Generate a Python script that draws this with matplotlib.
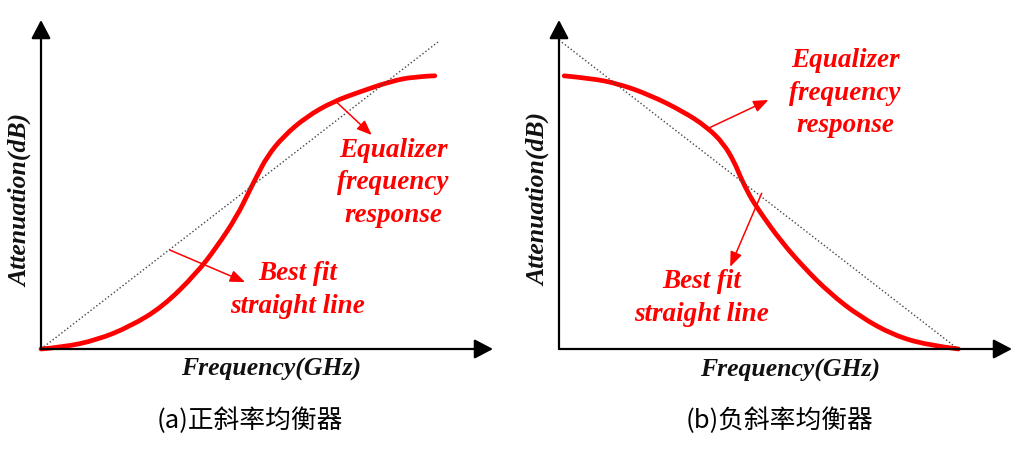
import matplotlib.pyplot as plt
from matplotlib.path import Path
from matplotlib.patches import PathPatch

# Curve (x: frequency, y: attenuation, arbitrary units 0..10)
pos_x = [0.0, 0.56, 1.40, 2.24, 3.07, 3.92, 4.43, 4.93, 5.26, 5.43, 5.69, 6.10, 6.69, 7.36, 8.04, 8.79, 9.38, 9.92]
pos_y = [0.0, 0.06, 0.29, 0.73, 1.38, 2.47, 3.33, 4.31, 5.18, 5.61, 6.26, 6.92, 7.57, 8.06, 8.38, 8.71, 8.87, 8.90]

neg_x = [0.13, 0.78, 1.45, 2.28, 3.12, 3.70, 4.12, 4.41, 4.54, 4.79, 4.95, 5.12, 5.54, 6.12, 6.79, 7.54, 8.38, 9.22, 10.01]
neg_y = [8.84, 8.76, 8.60, 8.22, 7.68, 7.19, 6.66, 6.01, 5.58, 4.93, 4.61, 4.28, 3.53, 2.66, 1.80, 1.05, 0.45, 0.13, 0.0]

# best fit straight lines
pos_fit_x = [0, 10]
pos_fit_y = [0, 10]
neg_fit_x = [0, 10]
neg_fit_y = [10, 0]

xlabel = 'Frequency(GHz)'
ylabel = 'Attenuation(dB)'
eq_label = 'Equalizer\nfrequency\nresponse'
fit_label = 'Best fit\nstraight line'
captions = ['(a)正斜率均衡器', '(b)负斜率均衡器']

W, H = 1035, 450
fig = plt.figure(figsize=(W / 100, H / 100), dpi=100)

red = '#ff0000'
serif = dict(family='Liberation Serif', weight='bold', style='italic', size=18.5)


def smooth_path(xs, ys):
    # quadratic bezier pieces through the midpoints, read points act as control points
    pts = list(zip(xs, ys))
    verts = [pts[0]]
    codes = [Path.MOVETO]
    for i in range(1, len(pts) - 1):
        if i < len(pts) - 2:
            end = ((pts[i][0] + pts[i + 1][0]) / 2, (pts[i][1] + pts[i + 1][1]) / 2)
        else:
            end = pts[-1]
        verts += [pts[i], end]
        codes += [Path.CURVE3, Path.CURVE3]
    return Path(verts, codes)


def make_axes(x0, y0, x1, y1):
    # pixel box of the axes (origin and arrow tips)
    return fig.add_axes([x0 / W, 1 - y0 / H, (x1 - x0) / W, (y0 - y1) / H])


panels = [
    dict(box=(41, 349, 493, 20), xs=39.7, ys=30.7, cx=pos_x, cy=pos_y, fx=pos_fit_x, fy=pos_fit_y,
         eq_xy=(8.87, 5.41), fit_xy=(6.47, 1.92), cap_x=250,
         eq_arrow=((7.43, 8.06), (8.33, 6.97)), fit_arrow=((3.25, 3.22), (5.14, 2.18))),
    dict(box=(559, 349, 1012, 20), xs=39.9, ys=30.9, cx=neg_x, cy=neg_y, fx=neg_fit_x, fy=neg_fit_y,
         eq_xy=(7.17, 8.28), fit_xy=(3.58, 1.65), cap_x=780,
         eq_arrow=((3.77, 7.16), (5.25, 8.06)), fit_arrow=((5.08, 5.04), (4.29, 2.66))),
]

for p, cap in zip(panels, captions):
    x0, y0, x1, y1 = p['box']
    ax = make_axes(*p['box'])
    ax.set_xlim(0, (x1 - x0) / p['xs'])
    ax.set_ylim(0, (y0 - y1) / p['ys'])
    ax.axis('off')

    # axes with arrow heads
    axis_arrow = dict(arrowstyle='-|>,head_length=0.42,head_width=0.22', color='black',
                      lw=1.6, mutation_scale=27, shrinkA=0, shrinkB=0)
    ax.annotate('', xy=(1, 0), xytext=(0, 0), xycoords='axes fraction', arrowprops=axis_arrow)
    ax.annotate('', xy=(0, 1), xytext=(0, 0), xycoords='axes fraction', arrowprops=axis_arrow)

    ax.plot(p['fx'], p['fy'], ls=':', color='#444444', lw=1.0, clip_on=False)
    ax.add_patch(PathPatch(smooth_path(p['cx'], p['cy']), fill=False, edgecolor=red, lw=3.4,
                           capstyle='round', joinstyle='round', clip_on=False))

    red_arrow = dict(arrowstyle='-|>,head_length=0.5,head_width=0.2', color=red, lw=1.1,
                     mutation_scale=18, shrinkA=0, shrinkB=0)
    for start, end in [p['eq_arrow'], p['fit_arrow']]:
        ax.annotate('', xy=end, xytext=start, arrowprops=red_arrow)

    ax.text(*p['eq_xy'], eq_label, color=red, ha='center', va='center', linespacing=1.4,
            **{**serif, 'size': 19.5})
    ax.text(*p['fit_xy'], fit_label, color=red, ha='center', va='center', linespacing=1.4,
            **{**serif, 'size': 19.5})

    # axis titles
    ax.text(5.8, -0.68, xlabel, ha='center', va='center', color='#111111', clip_on=False, **serif)
    ax.text(-0.52, 4.85, ylabel, ha='center', va='center', rotation=90, color='#111111',
            clip_on=False, **serif)

    fig.text(p['cap_x'] / W, 1 - 421 / H, cap, ha='center', va='center',
             family=['Noto Sans CJK SC', 'DejaVu Sans'], size=18.5)

fig.savefig('out.png', dpi=100)
